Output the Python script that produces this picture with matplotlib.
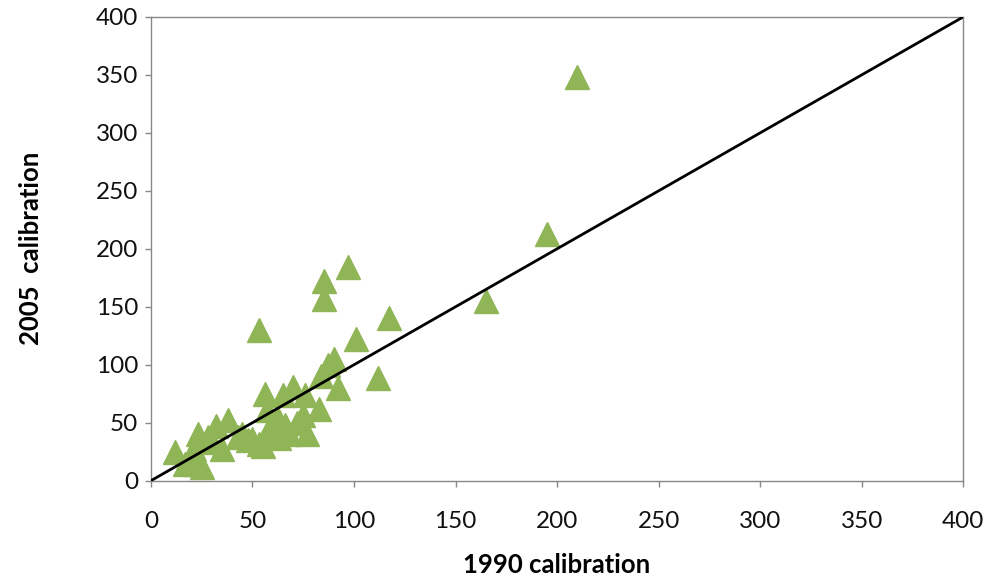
import matplotlib
matplotlib.use("Agg")
import matplotlib.pyplot as plt

x_1990 = [210, 195, 165, 117, 101, 112, 97, 85, 85, 53,
          87, 90, 84, 92, 83, 76, 75, 70, 65, 56, 57, 62,
          77, 68, 63, 53, 48, 43, 38, 32, 28, 23, 35, 21,
          12, 21, 25, 17, 55, 30, 45, 58, 72, 66, 60, 50]
y_2005 = [348, 213, 155, 140, 122, 89, 184, 172, 157, 130,
          100, 105, 90, 80, 62, 74, 57, 81, 74, 75, 61, 55,
          40, 40, 37, 32, 35, 38, 52, 47, 38, 40, 27, 27,
          25, 14, 12, 14, 30, 33, 40, 45, 50, 48, 42, 36]

line_x = [0, 400]
line_y = [0, 400]

xticks = [0, 50, 100, 150, 200, 250, 300, 350, 400]
yticks = [0, 50, 100, 150, 200, 250, 300, 350, 400]

plt.rcParams['font.family'] = ['Lato', 'DejaVu Sans']

fig = plt.figure(figsize=(9.86, 5.82), dpi=100)
ax = fig.add_axes([0.153, 0.174, 0.824, 0.797])

ax.plot(x_1990, y_2005, linestyle='none', marker='^', markersize=17.5,
        color='#8FB556', markeredgecolor='#8FB556', zorder=2)
ax.plot(line_x, line_y, color='black', linewidth=2, zorder=3)

ax.set_xlim(0, 400)
ax.set_ylim(0, 400)
ax.set_xticks(xticks)
ax.set_yticks(yticks)
for s in ax.spines.values():
    s.set_color('#888888')
    s.set_linewidth(1.0)
ax.tick_params(axis='both', colors='#888888', length=4, width=1, labelsize=17.5,
               labelcolor='#111111', direction='out')
ax.tick_params(axis='x', pad=18)
ax.tick_params(axis='y', pad=5)

ax.set_xlabel('1990 calibration', fontsize=18.5, fontweight='bold', labelpad=15)
ax.set_ylabel('2005  calibration', fontsize=18.5, fontweight='bold', labelpad=38)

fig.savefig('out.png', dpi=100, facecolor='white')
